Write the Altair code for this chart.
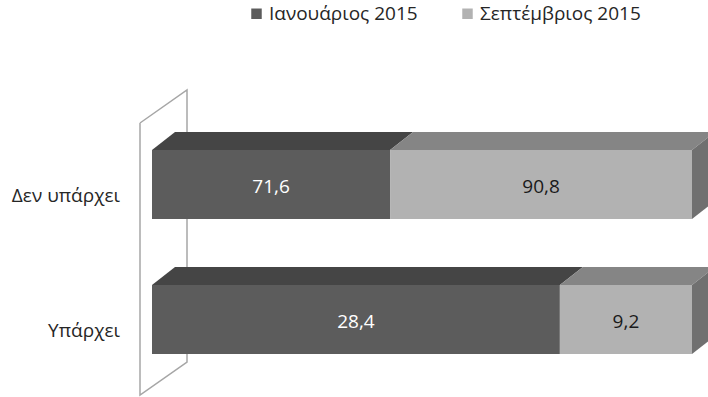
import altair as alt
import pandas as pd

# --- data -------------------------------------------------------------
categories = ["Δεν υπάρχει", "Υπάρχει"]
series = ["Ιανουάριος 2015", "Σεπτέμβριος 2015"]
jan_2015 = [71.6, 28.4]
sep_2015 = [90.8, 9.2]

# --- styling / layout -------------------------------------------------
FRONT = ["#5c5c5c", "#b2b2b2"]
TOP = ["#454545", "#858585"]
SIDE = ["#4a4a4a", "#707070"]
TEXT_ON = ["#ffffff", "#1a1a1a"]
FONT = "Open Sans"
FS = 19

PLOT_W = 540            # pixel length of a full (100 %) bar
PLOT_H = 397
ROW0 = 184.5            # vertical centre of the first bar's front face
ROW_PITCH = 135
BAR_H = 69
DEPTH_X = 23 / PLOT_W   # bar depth, in share units
DEPTH_Y = 18
WALL_FRONT = -12 / PLOT_W
WALL_DX = 47 / PLOT_W
WALL_TOP, WALL_BOT, WALL_DY = 123, 395, 33
LABEL_X = -32 / PLOT_W

values = {series[0]: jan_2015, series[1]: sep_2015}

front_rows, top_rows, side_rows = [], [], []
for i, cat in enumerate(categories):
    total = sum(values[s][i] for s in series)
    yc = ROW0 + i * ROW_PITCH
    yt, yb = yc - BAR_H / 2, yc + BAR_H / 2
    start = 0.0
    for k, s in enumerate(series):
        v = values[s][i]
        end = start + v / total
        front_rows.append(dict(category=cat, series=s, value=v,
                               label=f"{v:.1f}".replace(".", ","),
                               x0=start, x1=end, xm=(start + end) / 2,
                               yt=yt, yb=yb, yc=yc + 2))
        face = f"{i}-{k}"
        for x, up, lo in [(start, yt, yt),
                          (start + DEPTH_X, yt - DEPTH_Y, yt),
                          (end, yt - DEPTH_Y, yt),
                          (end + DEPTH_X, yt - DEPTH_Y, yt - DEPTH_Y)]:
            top_rows.append(dict(face=face, series=s, x=x, up=up, lo=lo))
        if k == len(series) - 1:
            for x, up, lo in [(end, yt, yb),
                              (end + DEPTH_X, yt - DEPTH_Y, yb - DEPTH_Y)]:
                side_rows.append(dict(face=face, series=s, x=x, up=up, lo=lo))
        start = end

front = pd.DataFrame(front_rows)
tops = pd.DataFrame(top_rows)
sides = pd.DataFrame(side_rows)
cats = pd.DataFrame(dict(category=categories,
                         y=[ROW0 + i * ROW_PITCH + 11 for i in range(len(categories))],
                         x=[LABEL_X] * len(categories)))
wall = pd.DataFrame(dict(
    i=[0, 1, 2, 3, 4],
    x=[WALL_FRONT, WALL_FRONT + WALL_DX, WALL_FRONT + WALL_DX, WALL_FRONT, WALL_FRONT],
    y=[WALL_TOP, WALL_TOP - WALL_DY, WALL_BOT - WALL_DY, WALL_BOT, WALL_TOP],
))

xs = alt.Scale(domain=[0, 1], nice=False, zero=False)
ys = alt.Scale(domain=[0, PLOT_H], reverse=True, nice=False, zero=False)

wall_layer = alt.Chart(wall).mark_line(color="#a6a6a6", strokeWidth=1.5).encode(
    x=alt.X("x:Q", scale=xs, axis=None),
    y=alt.Y("y:Q", scale=ys, axis=None),
    order="i:Q",
)

top_layer = alt.Chart(tops).mark_area(opacity=1).encode(
    x=alt.X("x:Q", scale=xs, axis=None),
    y=alt.Y("up:Q", scale=ys, axis=None, stack=None),
    y2="lo:Q",
    detail="face:N",
    color=alt.Color("series:N", scale=alt.Scale(domain=series, range=TOP), legend=None),
)

side_layer = alt.Chart(sides).mark_area(opacity=1).encode(
    x=alt.X("x:Q", scale=xs, axis=None),
    y=alt.Y("up:Q", scale=ys, axis=None, stack=None),
    y2="lo:Q",
    detail="face:N",
    color=alt.Color("series:N", scale=alt.Scale(domain=series, range=SIDE), legend=None),
)

front_layer = alt.Chart(front).mark_rect().encode(
    x=alt.X("x0:Q", scale=xs, axis=None),
    x2="x1:Q",
    y=alt.Y("yt:Q", scale=ys, axis=None),
    y2="yb:Q",
    color=alt.Color(
        "series:N",
        scale=alt.Scale(domain=series, range=FRONT),
        legend=alt.Legend(
            title=None, orient="none", direction="horizontal",
            legendX=95, legendY=4, padding=0,
            symbolType="square", symbolSize=110, symbolStrokeWidth=0,
            labelFont=FONT, labelFontSize=FS, labelColor="#262626",
            labelOffset=3, columnPadding=40, labelLimit=300,
        ),
    ),
)

value_layer = alt.Chart(front).mark_text(font=FONT, fontSize=FS, baseline="middle").encode(
    x=alt.X("xm:Q", scale=xs, axis=None),
    y=alt.Y("yc:Q", scale=ys, axis=None),
    text="label:N",
    color=alt.Color("series:N", scale=alt.Scale(domain=series, range=TEXT_ON), legend=None),
)

cat_layer = alt.Chart(cats).mark_text(
    font=FONT, fontSize=FS, align="right", baseline="middle", color="#262626"
).encode(
    x=alt.X("x:Q", scale=xs, axis=None),
    y=alt.Y("y:Q", scale=ys, axis=None),
    text="category:N",
)

chart = (
    alt.layer(wall_layer, top_layer, side_layer, front_layer, value_layer, cat_layer)
    .resolve_scale(color="independent")
    .properties(
        width=PLOT_W, height=PLOT_H,
        autosize=alt.AutoSizeParams(type="none"),
        padding={"left": 152, "right": 16, "top": 0, "bottom": 0},
    )
    .configure_view(stroke=None)
)

chart.save("out.html", embed_options={"renderer": "svg", "actions": False})
